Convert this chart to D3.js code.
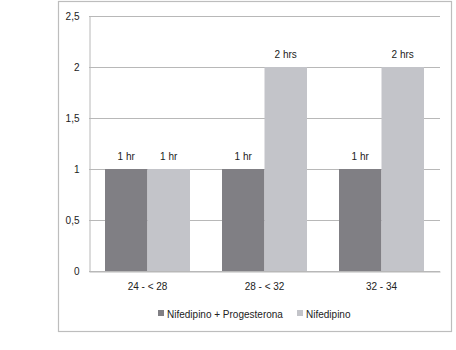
<!DOCTYPE html>
<html><head><meta charset="utf-8">
<script src="https://cdn.jsdelivr.net/npm/d3@7"></script>
<style>
body{margin:0;background:#fff;}
text{font-family:"Liberation Sans",Arial,sans-serif;fill:#222;}
</style></head>
<body><svg id="c" width="456" height="350"></svg>
<script>
const categories = ["24 - < 28", "28 - < 32", "32 - 34"];
const seriesNames = ["Nifedipino + Progesterona", "Nifedipino"];
const combo = [1, 1, 1];
const nife = [1, 2, 2];
const comboLabels = ["1 hr", "1 hr", "1 hr"];
const nifeLabels = ["1 hr", "2 hrs", "2 hrs"];
const yTicks = [0, 0.5, 1, 1.5, 2, 2.5];
const colors = ["#807f84", "#c3c4c9"];
const FS = 10;

const svg = d3.select("#c");
svg.append("rect").attr("x", 58.5).attr("y", 1.5).attr("width", 393).attr("height", 330)
  .attr("fill", "#fff").attr("stroke", "#bdbdbd").attr("stroke-width", 1.2);

const L = 89, R = 440, T = 16, B = 271;
const y = d3.scaleLinear().domain([0, 2.5]).range([B, T]);
const x = d3.scaleBand().domain(categories).range([L, R]).paddingInner(0.2735).paddingOuter(0.13675);
const x1 = d3.scaleBand().domain(seriesNames).range([0, x.bandwidth()]);

svg.append("g").selectAll("line").data(yTicks).join("line")
  .attr("x1", L).attr("x2", R).attr("y1", d => Math.round(y(d)) + 0.5).attr("y2", d => Math.round(y(d)) + 0.5)
  .attr("stroke", "#b8b8b8").attr("stroke-width", 1);

const yAxis = svg.append("g").attr("transform", `translate(${L + 0.5},0)`)
  .call(d3.axisLeft(y).tickValues(yTicks).tickSize(0).tickPadding(10)
    .tickFormat(d => String(d).replace(".", ",")));
yAxis.select(".domain").attr("stroke", "#b8b8b8");
yAxis.selectAll("text").attr("font-size", FS).style("fill", "#222");

const data = categories.map((c, i) => ({c, vals: [
  {s: seriesNames[0], v: combo[i], lab: comboLabels[i], col: colors[0]},
  {s: seriesNames[1], v: nife[i], lab: nifeLabels[i], col: colors[1]}]}));

const g = svg.append("g").selectAll("g").data(data).join("g")
  .attr("transform", d => `translate(${x(d.c)},0)`);
g.selectAll("rect").data(d => d.vals).join("rect")
  .attr("x", d => x1(d.s)).attr("width", x1.bandwidth())
  .attr("y", d => y(d.v)).attr("height", d => y(0) - y(d.v)).attr("fill", d => d.col);
g.selectAll("text").data(d => d.vals).join("text")
  .attr("x", d => x1(d.s) + x1.bandwidth() / 2).attr("y", d => y(d.v) - 9)
  .attr("text-anchor", "middle").attr("font-size", FS).text(d => d.lab);

const xAxis = svg.append("g").attr("transform", `translate(0,${B + 0.5})`)
  .call(d3.axisBottom(x).tickSize(0).tickPadding(11));
xAxis.select(".domain").attr("stroke", "#b8b8b8");
xAxis.selectAll("text").attr("font-size", FS).style("fill", "#222");

const leg = svg.append("g");
const legX = [158, 297];
seriesNames.forEach((s, i) => {
  leg.append("rect").attr("x", legX[i]).attr("y", 310).attr("width", 6).attr("height", 6).attr("fill", colors[i]);
  leg.append("text").attr("x", legX[i] + 9).attr("y", 317.5).attr("font-size", FS).text(s);
});
</script></body></html>
